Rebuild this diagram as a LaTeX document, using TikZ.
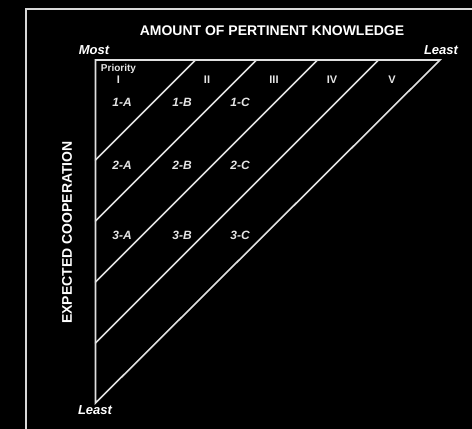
\documentclass[tikz,border=0pt]{standalone}
\usepackage{fontspec}
\setmainfont{Liberation Sans}
\begin{document}
\begin{tikzpicture}[x=1pt,y=-1pt,
  ln/.style={draw=white!88!black, line width=1.6pt, line cap=round, line join=miter},
  frm/.style={draw=white!85!black, line width=2.6pt},
  ttl/.style={text=white, font=\fontsize{14}{16}\selectfont\bfseries, inner sep=0pt},
  endl/.style={text=white, font=\fontsize{13}{15}\selectfont\bfseries\itshape, inner sep=0pt},
  rom/.style={text=white!90!black, font=\fontsize{11}{13}\selectfont\bfseries, inner sep=0pt},
  cell/.style={text=white!90!black, font=\fontsize{12}{14}\selectfont\bfseries\itshape, inner sep=0pt},
  pri/.style={text=white!90!black, font=\fontsize{10}{12}\selectfont\bfseries, inner sep=0pt}]
\fill[black] (0,0) rectangle (472,429);
\useasboundingbox (0,0) rectangle (472,429);
% outer frame (top and left edges)
\draw[frm] (26,432) -- (26,9) -- (476,9);
% triangle corners
\coordinate (TL) at (95.5,60);
\coordinate (TR) at (440,60);
\coordinate (BL) at (95.5,403);
\draw[ln] (BL) -- (TL) -- (TR) -- cycle;
% diagonals
\foreach \d [count=\k] in {100,161,222,283} {
  \coordinate (t\k) at (95.5+\d,60);
  \coordinate (l\k) at (95.5,60+\d);
  \draw[ln] (t\k) -- (l\k);
}
% titles
\node[ttl] (title) at (272,31) {AMOUNT OF PERTINENT KNOWLEDGE};
\node[ttl, rotate=90] (ylab) at (67,232.5) {EXPECTED COOPERATION};
\node[endl] (most) at (94,50.5) {Most};
\node[endl] (leastr) at (441,50.5) {Least};
\node[endl] (leastb) at (95,410.5) {Least};
% priority header
\node[pri] (prio) at (118.5,69) {Priority};
\node[rom] (r1) at (118.5,80) {I};
\node[rom] (r2) at (207,80) {II};
\node[rom] (r3) at (274,80) {III};
\node[rom] (r4) at (332,80) {IV};
\node[rom] (r5) at (392,80) {V};
% cells
\node[cell] (c1a) at (122,102) {1-A};
\node[cell] (c1b) at (182,102) {1-B};
\node[cell] (c1c) at (240,102) {1-C};
\node[cell] (c2a) at (122,165) {2-A};
\node[cell] (c2b) at (182,165) {2-B};
\node[cell] (c2c) at (240,165) {2-C};
\node[cell] (c3a) at (122,235) {3-A};
\node[cell] (c3b) at (182,235) {3-B};
\node[cell] (c3c) at (240,235) {3-C};
\end{tikzpicture}
\end{document}
